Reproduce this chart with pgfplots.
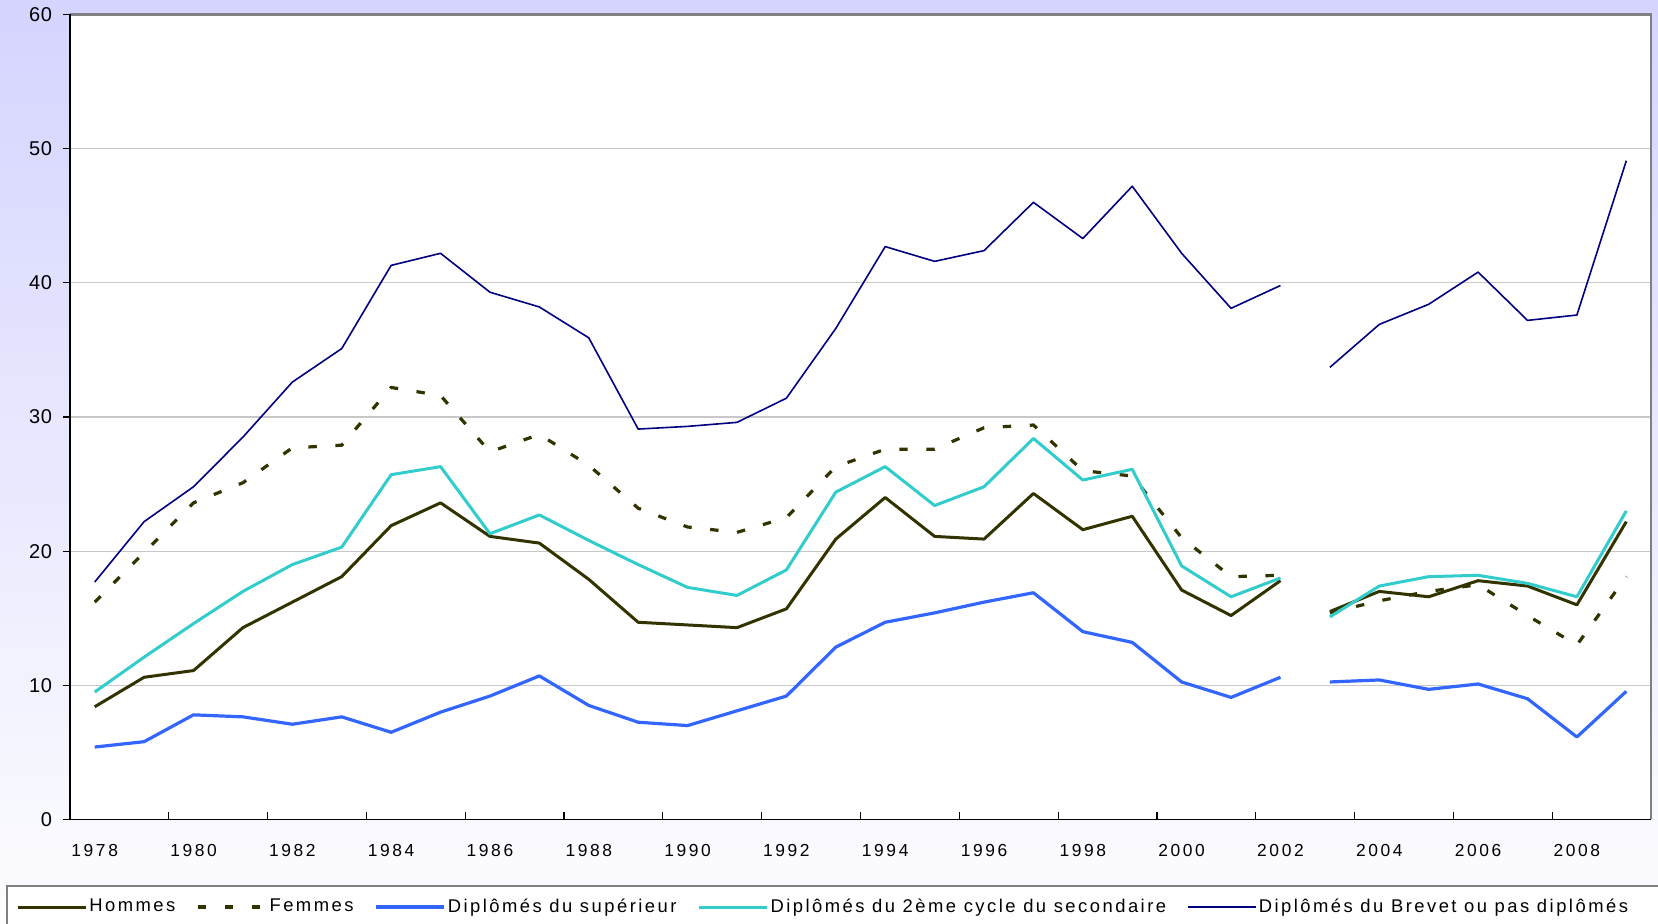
\documentclass[border=0pt]{standalone}
\usepackage{fontspec}
\setmainfont{Liberation Sans}
\newfontfamily\xfont{Liberation Sans}[LetterSpace=15]
\newfontfamily\yfont{Liberation Sans}[LetterSpace=3]
\newfontfamily\legfont{Liberation Sans}[LetterSpace=13.5]
\usepackage{pgfplots}
\pgfplotsset{compat=1.18}
\usepackage{pgfplotstable}
\definecolor{cHom}{RGB}{51,51,0}
\definecolor{cSup}{RGB}{51,102,255}
\definecolor{cSec}{RGB}{51,204,204}
\definecolor{cBre}{RGB}{0,0,128}
\definecolor{bgtop}{RGB}{212,212,255}
\definecolor{bgbot}{RGB}{253,253,255}
\definecolor{gridc}{RGB}{200,200,200}
\definecolor{framec}{RGB}{128,128,128}

\pgfplotstableread{
x    h     f     s      c     b
0    8.4   16.2  5.4    9.5   17.7
1    10.6  19.9  5.8    12.1  22.2
2    11.1  23.6  7.8    14.6  24.8
3    14.3  25.1  7.65   17.0  28.5
4    16.2  27.7  7.1    19.0  32.6
5    18.1  27.9  7.65   20.3  35.1
6    21.9  32.2  6.5    25.7  41.3
7    23.6  31.6  8.0    26.3  42.2
8    21.1  27.4  9.2    21.3  39.3
9    20.6  28.7  10.7   22.7  38.2
10   17.9  26.4  8.5    20.8  35.9
11   14.7  23.2  7.25   19.0  29.1
12   14.5  21.8  7.0    17.3  29.3
13   14.3  21.4  8.1    16.7  29.6
14   15.7  22.5  9.2    18.6  31.4
15   20.9  26.3  12.85  24.4  36.6
16   24.0  27.6  14.7   26.3  42.7
17   21.1  27.6  15.4   23.4  41.6
18   20.9  29.2  16.2   24.8  42.4
19   24.3  29.4  16.9   28.4  46.0
20   21.6  26.0  14.0   25.3  43.3
21   22.6  25.6  13.2   26.1  47.2
22   17.1  21.0  10.25  18.9  42.2
23   15.2  18.1  9.1    16.6  38.1
24   17.8  18.2  10.6   18.0  39.8
24.5 nan   nan   nan    nan   nan
25   15.5  15.4  10.25  15.1  33.7
26   17.0  16.3  10.4   17.4  36.9
27   16.6  17.0  9.7    18.1  38.4
28   17.8  17.5  10.1   18.2  40.8
29   17.4  15.2  9.0    17.6  37.2
30   16.0  13.0  6.15   16.6  37.6
31   22.2  18.1  9.55   23.0  49.1
}\data

\begin{document}
\begin{tikzpicture}
\useasboundingbox (0,0) rectangle (829pt,462pt);
\shade[top color=bgtop, bottom color=bgbot] (0,0) rectangle (829pt,462pt);
\draw[fill=white, draw=framec, line width=1pt] (3.5pt,-10pt) rectangle (840pt,19.15pt);
\begin{axis}[
  name=ax,
  at={(35pt,52.25pt)}, anchor=south west,
  scale only axis, width=790.5pt, height=402.5pt,
  xmin=-0.5, xmax=31.5, ymin=0, ymax=60,
  axis background/.style={fill=white},
  axis line style={draw=none},
  clip=false,
  unbounded coords=jump,
  tick pos=left,
  tick align=inside,
  major tick length=3.5pt,
  tick style={black, line width=0.6pt},
  ytick={0,10,...,60},
  ytick style={xshift=-3.5pt},
  ymajorgrids,
  grid style={gridc, line width=0.6pt},
  xtick={1.5,3.5,...,29.5},
  xticklabels={},
  extra x ticks={0,2,...,30},
  extra x tick labels={1978,1980,1982,1984,1986,1988,1990,1992,1994,1996,1998,2000,2002,2004,2006,2008},
  extra x tick style={major tick length=0pt, grid=none},
  xticklabel style={font=\xfont\fontsize{8.7}{10}\selectfont, yshift=-8.8pt},
  yticklabel style={font=\yfont\fontsize{10}{12}\selectfont, xshift=-5.5pt},
  /pgf/number format/assume math mode=true,
  legend columns=5,
  legend cell align=left,
  legend image code/.code={\draw[#1] (0pt,0pt) -- (34pt,0pt);},
  legend style={at={(-0.0342,-0.1087)}, anchor=west, draw=none, fill=none,
    inner sep=0pt, font=\legfont\fontsize{9.2}{10}\selectfont,
    nodes={inner sep=1pt},
    /tikz/every even column/.append style={column sep=9.5pt}},
]
\addplot[cHom, line width=1.5pt, line join=round] table[x=x,y=h]{\data};
\addlegendentry{Hommes}
\addplot[cHom, line width=1.6pt, dash pattern=on 4.2pt off 9.3pt] table[x=x,y=f]{\data};
\addlegendentry{Femmes}
\addplot[cSup, line width=1.6pt, line join=round] table[x=x,y=s]{\data};
\addlegendentry{Diplômés du supérieur}
\addplot[cSec, line width=1.5pt, line join=round] table[x=x,y=c]{\data};
\addlegendentry{Diplômés du 2ème cycle du secondaire}
\addplot[cBre, line width=0.8pt, line join=round] table[x=x,y=b]{\data};
\addlegendentry{Diplômés du Brevet ou pas diplômés}
\end{axis}
\draw[framec, line width=1.2pt] (ax.north west) -- (ax.north east) -- (ax.south east);
\draw[black, line width=0.8pt] (ax.north west) -- (ax.south west) -- (ax.south east);
\end{tikzpicture}
\end{document}
